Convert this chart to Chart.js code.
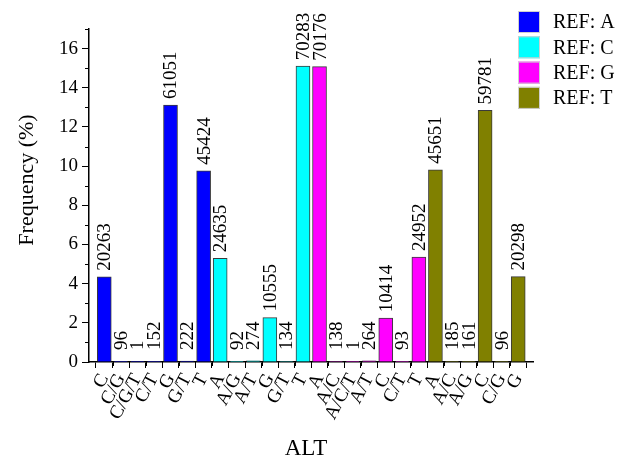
<!DOCTYPE html>
<html><head><meta charset="utf-8">
<script src="https://cdn.jsdelivr.net/npm/chart.js@4/dist/chart.umd.min.js"></script>
<style>html,body{margin:0;padding:0;background:#fff}#wrap{width:620px;height:458px}</style>
</head><body><div id="wrap"><canvas id="c" width="620" height="458"></canvas></div>
<script>
// ---- data ----
const refGroups = ['REF: A', 'REF: C', 'REF: G', 'REF: T'];
const altA = ['C', 'C/G', 'C/G/T', 'C/T', 'G', 'G/T', 'T'];
const altC = ['A', 'A/G', 'A/T', 'G', 'G/T', 'T'];
const altG = ['A', 'A/C', 'A/C/T', 'A/T', 'C', 'C/T', 'T'];
const altT = ['A', 'A/C', 'A/G', 'C', 'C/G', 'G'];
const freqA = [4.354, 0.0206, 0.0002, 0.0327, 13.118, 0.0477, 9.760];
const freqC = [5.293, 0.0198, 0.0589, 2.268, 0.0288, 15.102];
const freqG = [15.079, 0.0297, 0.0002, 0.0567, 2.238, 0.0200, 5.362];
const freqT = [9.809, 0.0398, 0.0346, 12.845, 0.0206, 4.361];
const countA = [20263, 96, 1, 152, 61051, 222, 45424];
const countC = [24635, 92, 274, 10555, 134, 70283];
const countG = [70176, 138, 1, 264, 10414, 93, 24952];
const countT = [45651, 185, 161, 59781, 96, 20298];
const yTicks = [0, 2, 4, 6, 8, 10, 12, 14, 16];
const yMinorTicks = [1, 3, 5, 7, 9, 11, 13, 15, 17];
const xTitle = 'ALT';
const yTitle = 'Frequency (%)';

// ---- styles ----
const colors = ['#0000FF', '#00FFFF', '#FF00FF', '#808000'];
const FONT = "'Liberation Serif', 'Times New Roman', serif";

const groupsAlt = [altA, altC, altG, altT];
const groupsFreq = [freqA, freqC, freqG, freqT];
const groupsCount = [countA, countC, countG, countT];
const categories = [].concat(...groupsAlt);

let offset = 0;
const datasets = groupsAlt.map((alts, g) => {
  const data = alts.map((a, i) => ({ x: offset + i, y: groupsFreq[g][i], count: groupsCount[g][i] }));
  offset += alts.length;
  return {
    label: refGroups[g],
    data,
    backgroundColor: colors[g],
    borderColor: '#3a3a3a',
    borderWidth: 1,
    borderSkipped: 'bottom',
    barThickness: 14,
    grouped: false
  };
});

const extras = {
  id: 'extras',
  afterDatasetsDraw(chart) {
    const ctx = chart.ctx;
    const ys = chart.scales.y;
    const base = ys.getPixelForValue(0);
    ctx.save();
    ctx.fillStyle = '#000';
    ctx.font = '19px ' + FONT;
    ctx.textAlign = 'left';
    ctx.textBaseline = 'middle';
    chart.data.datasets.forEach((ds, di) => {
      const meta = chart.getDatasetMeta(di);
      meta.data.forEach((bar, i) => {
        const yy = Math.min(bar.y - 6, base - 12);
        ctx.save();
        ctx.translate(bar.x + 1, yy);
        ctx.rotate(-Math.PI / 2);
        ctx.fillText(String(ds.data[i].count), 0, 0);
        ctx.restore();
      });
    });
    ctx.restore();
  },
  afterDraw(chart) {
    const ctx = chart.ctx;
    const xs = chart.scales.x, ys = chart.scales.y;
    const area = chart.chartArea;
    ctx.save();
    ctx.strokeStyle = '#000';
    ctx.lineWidth = 1;
    // minor ticks
    ctx.beginPath();
    for (let i = 0; i < categories.length - 1; i++) {
      const px = Math.round(xs.getPixelForValue(i + 0.5)) + 0.5;
      ctx.moveTo(px, area.bottom);
      ctx.lineTo(px, area.bottom + 4);
    }
    yMinorTicks.forEach(v => {
      const py = Math.round(ys.getPixelForValue(v)) + 0.5;
      ctx.moveTo(area.left, py);
      ctx.lineTo(area.left - 4, py);
    });
    ctx.stroke();
    // axis titles
    ctx.fillStyle = '#000';
    ctx.font = '23px ' + FONT;
    ctx.textAlign = 'center';
    ctx.textBaseline = 'alphabetic';
    ctx.fillText(xTitle, 306, 455);
    ctx.save();
    ctx.translate(33, 180);
    ctx.rotate(-Math.PI / 2);
    ctx.font = '22px ' + FONT;
    ctx.fillText(yTitle, 0, 0);
    ctx.restore();
    // legend
    ctx.font = '20px ' + FONT;
    ctx.textAlign = 'left';
    ctx.textBaseline = 'middle';
    refGroups.forEach((lab, g) => {
      const top = 11 + g * 25.3;
      ctx.fillStyle = colors[g];
      ctx.fillRect(518, top, 22, 22);
      ctx.strokeStyle = '#cfcfcf';
      ctx.lineWidth = 1;
      ctx.strokeRect(518.5, top + 0.5, 21, 21);
      ctx.fillStyle = '#000';
      ctx.fillText(lab, 553, top + 12);
    });
    ctx.restore();
  }
};

new Chart(document.getElementById('c'), {
  type: 'bar',
  data: { datasets },
  options: {
    responsive: false,
    animation: false,
    devicePixelRatio: 1,
    layout: { padding: { left: 0, right: 86.5, top: 29, bottom: 0 } },
    plugins: { legend: { display: false }, tooltip: { enabled: false } },
    scales: {
      x: {
        type: 'linear',
        min: -0.4065,
        max: 25.4065,
        afterBuildTicks(scale) { scale.ticks = categories.map((c, i) => ({ value: i })); },
        afterFit(scale) { scale.height = 96; },
        ticks: {
          autoSkip: false,
          minRotation: 62,
          maxRotation: 62,
          padding: 2,
          color: '#000',
          font: { family: FONT, size: 19 },
          callback: (v) => categories[v]
        },
        grid: { display: true, drawOnChartArea: false, drawTicks: true, tickLength: 6, color: '#000', lineWidth: 1 },
        border: { display: true, color: '#000', width: 1.5 }
      },
      y: {
        type: 'linear',
        min: 0,
        max: 17,
        afterBuildTicks(scale) { scale.ticks = yTicks.map(v => ({ value: v })); },
        afterFit(scale) { scale.width = 89; },
        ticks: { padding: 4, color: '#000', font: { family: FONT, size: 19 } },
        grid: { display: true, drawOnChartArea: false, drawTicks: true, tickLength: 7, color: '#000', lineWidth: 1 },
        border: { display: true, color: '#000', width: 1.5 }
      }
    }
  },
  plugins: [extras]
});
</script>
</body></html>
